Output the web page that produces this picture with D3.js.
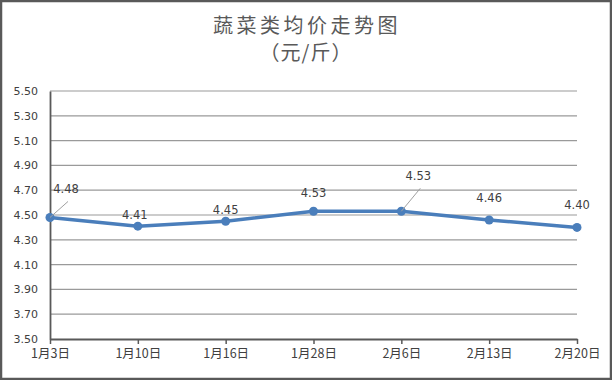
<!DOCTYPE html>
<html><head><meta charset="utf-8">
<script src="https://cdn.jsdelivr.net/npm/d3@7/dist/d3.min.js"></script>
<style>
html,body{margin:0;padding:0;background:#fff;}
svg{display:block;}
</style></head>
<body>
<svg id="c" width="612" height="380"></svg>
<script>
const categories = ["1月3日","1月10日","1月16日","1月28日","2月6日","2月13日","2月20日"];
const values = [4.48, 4.41, 4.45, 4.53, 4.53, 4.46, 4.40];
const yTicks = [3.50,3.70,3.90,4.10,4.30,4.50,4.70,4.90,5.10,5.30,5.50];
const titleLines = ["蔬菜类均价走势图","（元/斤）"];

(function(){
const svg = d3.select("#c");
const W = 612, H = 380;
const pLeft = 50, pRight = 577, pTop = 91, pBottom = 339;
const cjk = "'Noto Sans CJK SC', sans-serif";
const num = "'DejaVu Sans', sans-serif";

svg.append("rect").attr("x",1).attr("y",1).attr("width",W-2).attr("height",H-2)
  .attr("fill","#fff").attr("stroke","#595959").attr("stroke-width",2.5);

svg.append("text").attr("x",307).attr("y",33).attr("text-anchor","middle")
  .attr("font-family",cjk).attr("font-size",20).attr("letter-spacing",3.5)
  .attr("fill","#595959").text(titleLines[0]);
svg.append("text").attr("x",306).attr("y",60).attr("text-anchor","middle")
  .attr("font-family",cjk).attr("font-size",20).attr("letter-spacing",1)
  .attr("fill","#595959").text(titleLines[1]);

const x = d3.scalePoint().domain(categories).range([pLeft,pRight]);
const y = d3.scaleLinear().domain([3.5,5.5]).range([pBottom,pTop]);

svg.append("g").selectAll("line").data(yTicks.slice(1)).join("line")
  .attr("x1",pLeft).attr("x2",pRight).attr("y1",d=>y(d)).attr("y2",d=>y(d))
  .attr("stroke","#9a9a9a").attr("stroke-width",1.2);

const ya = svg.append("g").attr("transform",`translate(${pLeft},0)`)
  .call(d3.axisLeft(y).tickValues(yTicks).tickFormat(d3.format(".2f")).tickSize(0).tickPadding(12));
ya.select(".domain").attr("stroke","#595959").attr("stroke-width",1.8);
ya.selectAll("text").attr("font-family",num).attr("font-size",11).attr("fill","#404040");

const xa = svg.append("g").attr("transform",`translate(0,${pBottom})`)
  .call(d3.axisBottom(x).tickSize(5).tickSizeOuter(0).tickPadding(5).tickFormat(d=>d));
xa.select(".domain").attr("stroke","#595959").attr("stroke-width",1.8);
xa.selectAll(".tick line").attr("stroke","#595959").attr("stroke-width",1.5);
xa.selectAll("text").attr("font-family",cjk).attr("font-size",12.5).attr("fill","#404040");

const data = categories.map((c,i)=>({c,v:values[i]}));
svg.append("path").datum(data)
  .attr("d",d3.line().x(d=>x(d.c)).y(d=>y(d.v)))
  .attr("fill","none").attr("stroke","#4a7ebb").attr("stroke-width",3.5)
  .attr("stroke-linejoin","round");
svg.append("g").selectAll("circle").data(data).join("circle")
  .attr("cx",d=>x(d.c)).attr("cy",d=>y(d.v)).attr("r",4.5).attr("fill","#4a7ebb");

const labelOff = [[16,-24,true],[-3,-7,false],[0,-7,false],[0,-14,false],[17,-31,true],[0,-18,false],[0,-18,false]];
data.forEach((d,i)=>{
  const px = x(d.c), py = y(d.v);
  const [dx,dy,leader] = labelOff[i];
  if(leader){
    svg.append("line").attr("x1",px).attr("y1",py).attr("x2",px+dx+2).attr("y2",py+dy+8)
      .attr("stroke","#a0a0a0").attr("stroke-width",1);
  }
  svg.append("text").attr("x",px+dx).attr("y",py+dy)
    .attr("text-anchor","middle").attr("font-family",num).attr("font-size",11.5)
    .attr("fill","#404040").text(d3.format(".2f")(d.v));
});
})();
</script>
</body></html>
